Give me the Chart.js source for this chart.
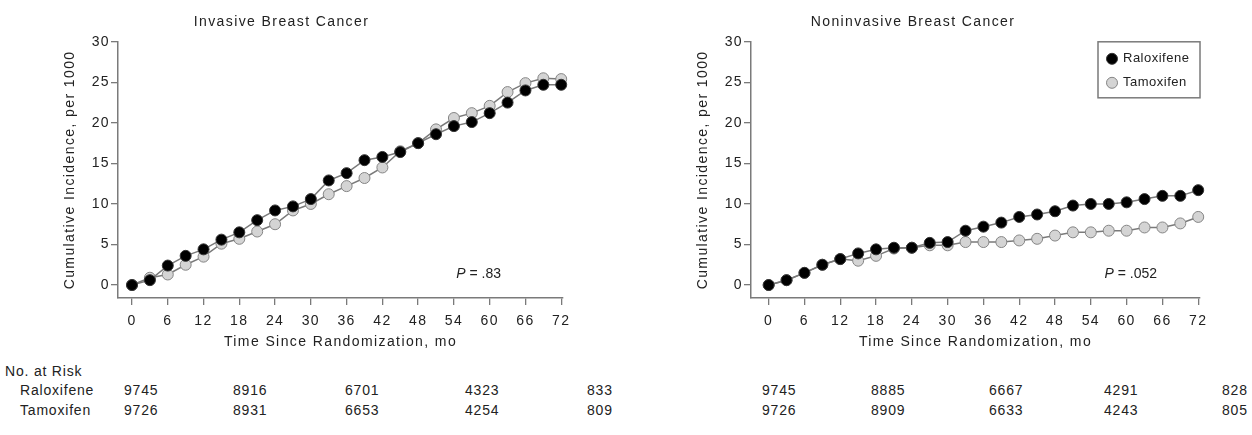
<!DOCTYPE html>
<html lang="en">
<head>
<meta charset="UTF-8">
<title>Cumulative Incidence of Breast Cancer</title>
<script src="https://cdn.jsdelivr.net/npm/chart.js"></script>
<style>
    html, body {
        margin: 0;
        padding: 0;
        width: 1252px;
        height: 435px;
        overflow: hidden;
        background: #fff;
        position: relative;
        font-family: "Liberation Sans", Arial, sans-serif;
    }
    .chart-box { position: absolute; top: 0; height: 355px; }
    #invasiveBox { left: 0; width: 690px; }
    #noninvasiveBox { left: 626px; width: 720px; }
    .risk {
        position: absolute;
        font-size: 14px;
        line-height: 16px;
        letter-spacing: 0.8px;
        color: #222;
        white-space: nowrap;
    }
</style>
</head>
<body>
    <div id="invasiveBox" class="chart-box"><canvas id="invasiveChart" width="690" height="355"></canvas></div>
    <div id="noninvasiveBox" class="chart-box"><canvas id="noninvasiveChart" width="720" height="355"></canvas></div>
    <div id="riskTable"></div>

<script>
    // data, every 3 months
    const months = [0, 3, 6, 9, 12, 15, 18, 21, 24, 27, 30, 33, 36, 39, 42, 45, 48, 51, 54, 57, 60, 63, 66, 69, 72];
    const xTicks = [0, 6, 12, 18, 24, 30, 36, 42, 48, 54, 60, 66, 72];
    const yTicks = [0, 5, 10, 15, 20, 25, 30];

    const invasiveRaloxifene = [0, 0.6, 2.4, 3.6, 4.4, 5.6, 6.5, 8.0, 9.2, 9.7, 10.6, 12.9, 13.8, 15.4, 15.8, 16.4, 17.5, 18.6, 19.6, 20.1, 21.2, 22.5, 24.0, 24.7, 24.7];
    const invasiveTamoxifen  = [0, 0.9, 1.3, 2.5, 3.5, 5.1, 5.7, 6.6, 7.5, 9.2, 10.0, 11.2, 12.2, 13.2, 14.5, 16.5, 17.5, 19.2, 20.6, 21.2, 22.1, 23.8, 24.9, 25.5, 25.4];

    const noninvRaloxifene = [0, 0.6, 1.5, 2.5, 3.2, 3.9, 4.4, 4.6, 4.6, 5.2, 5.3, 6.7, 7.2, 7.7, 8.4, 8.7, 9.1, 9.8, 10.0, 10.0, 10.2, 10.6, 11.0, 11.0, 11.7];
    const noninvTamoxifen  = [0, 0.6, 1.5, 2.5, 3.2, 3.0, 3.6, 4.5, 4.6, 4.9, 4.9, 5.3, 5.3, 5.3, 5.5, 5.7, 6.1, 6.5, 6.5, 6.7, 6.7, 7.1, 7.1, 7.6, 8.4];

    const riskInvRaloxifene = [9745, 8916, 6701, 4323, 833];
    const riskInvTamoxifen  = [9726, 8931, 6653, 4254, 809];
    const riskNonRaloxifene = [9745, 8885, 6667, 4291, 828];
    const riskNonTamoxifen  = [9726, 8909, 6633, 4243, 805];

    const FONT = '"Liberation Sans", Arial, sans-serif';
    const INK = '#222';
    const AXIS = '#7a7a7a';

    Chart.defaults.font.family = FONT;
    Chart.defaults.font.size = 14;
    Chart.defaults.color = INK;

    // wider tracking like the printed figure
    const tracking = {
        id: 'tracking',
        beforeDraw(chart) { chart.ctx.letterSpacing = '1.4px'; }
    };

    const pLabel = {
        id: 'pLabel',
        afterDatasetsDraw(chart, args, o) {
            const { ctx, scales: { x, y } } = chart;
            const px = x.getPixelForValue(o.x);
            const py = y.getPixelForValue(o.y);
            ctx.save();
            ctx.letterSpacing = '0px';
            ctx.fillStyle = INK;
            ctx.textBaseline = 'middle';
            ctx.font = 'italic 14px ' + FONT;
            ctx.fillText('P', px, py);
            const w = ctx.measureText('P').width;
            ctx.font = '14px ' + FONT;
            ctx.fillText(' = ' + o.value, px + w, py);
            ctx.restore();
        }
    };

    const boxLegend = {
        id: 'boxLegend',
        afterDraw(chart, args, o) {
            if (!o.show) return;
            const { ctx, chartArea } = chart;
            const x1 = chartArea.right - o.width;
            const y1 = chartArea.top;
            ctx.save();
            ctx.letterSpacing = '0.5px';
            ctx.strokeStyle = AXIS;
            ctx.lineWidth = 1.5;
            ctx.strokeRect(x1, y1, o.width, o.height);
            chart.data.datasets.forEach((ds, i) => {
                const cy = y1 + 17 + i * 24;
                ctx.beginPath();
                ctx.arc(x1 + 14, cy, 5.5, 0, Math.PI * 2);
                ctx.fillStyle = ds.pointBackgroundColor;
                ctx.fill();
                ctx.strokeStyle = ds.pointBorderColor;
                ctx.lineWidth = 1;
                ctx.stroke();
                ctx.fillStyle = INK;
                ctx.font = '13px ' + FONT;
                ctx.textBaseline = 'middle';
                ctx.fillText(ds.label, x1 + 25, cy);
            });
            ctx.restore();
        }
    };

    function pts(values) {
        return months.map((m, i) => ({ x: m, y: values[i] }));
    }

    function series(label, values, fill, edge) {
        return {
            label: label,
            data: pts(values),
            borderColor: AXIS,
            borderWidth: 1.5,
            pointRadius: 5.5,
            pointBackgroundColor: fill,
            pointBorderColor: edge,
            pointBorderWidth: 1,
            tension: 0,
            fill: false,
            clip: false
        };
    }

    function makeChart(id, o) {
        const ctx = document.getElementById(id).getContext('2d');
        return new Chart(ctx, {
            type: 'line',
            data: {
                datasets: [
                    series('Raloxifene', o.ral, '#000', '#333'),
                    series('Tamoxifen', o.tam, '#d4d4d4', '#858585')
                ]
            },
            plugins: [tracking, pLabel, boxLegend],
            options: {
                responsive: false,
                animation: false,
                events: [],
                layout: { padding: { left: 0, top: 0, bottom: 0, right: o.padRight } },
                plugins: {
                    legend: { display: false },
                    tooltip: { enabled: false },
                    title: {
                        display: true,
                        text: o.title,
                        color: INK,
                        font: { size: 14, weight: 'normal' },
                        padding: { top: 14, bottom: 11 }
                    },
                    pLabel: { x: o.pX, y: 1.4, value: o.p },
                    boxLegend: { show: o.legend, width: 102, height: 56 }
                },
                scales: {
                    x: {
                        type: 'linear',
                        min: o.xMin,
                        max: 72.3,
                        afterBuildTicks: s => { s.ticks = xTicks.map(v => ({ value: v })); },
                        afterFit: s => { s.height = 57; },
                        grid: { drawOnChartArea: false, drawTicks: true, tickLength: 7, color: AXIS, lineWidth: 1.3 },
                        border: { display: true, color: AXIS, width: 1.5 },
                        ticks: { color: INK, padding: 8, maxRotation: 0, autoSkip: false },
                        title: {
                            display: true,
                            text: 'Time Since Randomization, mo',
                            color: INK,
                            font: { size: 14 },
                            padding: { top: 0, bottom: 4 }
                        }
                    },
                    y: {
                        type: 'linear',
                        min: -1.6,
                        max: 30,
                        afterBuildTicks: s => { s.ticks = yTicks.map(v => ({ value: v })); },
                        afterFit: s => { s.width = o.yWidth; },
                        grid: { drawOnChartArea: false, drawTicks: true, tickLength: 7, color: AXIS, lineWidth: 1.3 },
                        border: { display: true, color: AXIS, width: 1.5 },
                        ticks: { color: INK, padding: 1 },
                        title: {
                            display: true,
                            text: 'Cumulative Incidence, per 1000',
                            color: INK,
                            font: { size: 14 },
                            padding: { top: o.yTitlePad, bottom: 0 }
                        }
                    }
                }
            }
        });
    }

    makeChart('invasiveChart', {
        title: 'Invasive Breast Cancer',
        ral: invasiveRaloxifene,
        tam: invasiveTamoxifen,
        xMin: -2.35,
        yWidth: 118,
        yTitlePad: 62,
        padRight: 127,
        pX: 54.4,
        p: '.83',
        legend: false
    });

    makeChart('noninvasiveChart', {
        title: 'Noninvasive Breast Cancer',
        ral: noninvRaloxifene,
        tam: noninvTamoxifen,
        xMin: -2.96,
        yWidth: 125,
        yTitlePad: 69,
        padRight: 146,
        pX: 56.3,
        p: '.052',
        legend: true
    });

    // number at risk table under the plots
    function addText(text, left, top) {
        const d = document.createElement('div');
        d.className = 'risk';
        d.style.left = left + 'px';
        d.style.top = top + 'px';
        d.textContent = text;
        document.getElementById('riskTable').appendChild(d);
    }

    const leftCols = [124, 233, 345, 465, 587];
    const rightCols = [762, 871, 989, 1104, 1222];
    const rowTop = [382, 402];

    addText('No. at Risk', 5, 363);
    addText('Raloxifene', 20, rowTop[0]);
    addText('Tamoxifen', 20, rowTop[1]);
    [[riskInvRaloxifene, riskInvTamoxifen, leftCols], [riskNonRaloxifene, riskNonTamoxifen, rightCols]].forEach(([r, t, cols]) => {
        cols.forEach((x, i) => {
            addText(r[i], x, rowTop[0]);
            addText(t[i], x, rowTop[1]);
        });
    });
</script>
</body>
</html>
